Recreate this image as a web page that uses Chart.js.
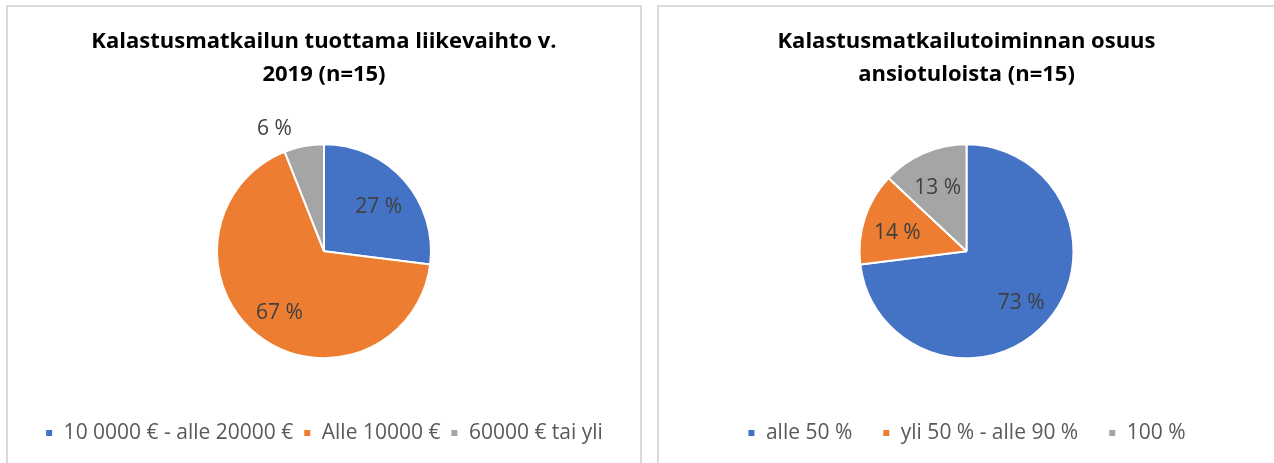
<!DOCTYPE html>
<html>
<head>
<meta charset="utf-8">
<script src="https://cdn.jsdelivr.net/npm/chart.js@4.4.1/dist/chart.umd.min.js"></script>
<style>
  html, body { margin: 0; padding: 0; background: #ffffff; overflow: hidden; }
  body { width: 1274px; height: 463px; position: relative; }
  .box { position: absolute; border: 2px solid #dadada; border-bottom: none; background: #fff; }
  #box1 { left: 6px; top: 5px; width: 632px; height: 460px; }
  #box2 { left: 657px; top: 5px; width: 640px; height: 460px; }
  canvas { position: absolute; left: 0; top: 0; }
</style>
</head>
<body>
<div class="box" id="box1"><canvas id="c1" width="632" height="456" style="width:632px;height:456px"></canvas></div>
<div class="box" id="box2"><canvas id="c2" width="615" height="456" style="width:615px;height:456px"></canvas></div>
<script>
// ---- data ----
const titleLeft = ["Kalastusmatkailun tuottama liikevaihto v.", "2019 (n=15)"];
const categoriesLeft = ["10 0000 € - alle 20000 €", "Alle 10000 €", "60000 € tai yli"];
const valuesLeft = [27, 67, 6];

const titleRight = ["Kalastusmatkailutoiminnan osuus", "ansiotuloista (n=15)"];
const categoriesRight = ["alle 50 %", "yli 50 % - alle 90 %", "100 %"];
const valuesRight = [73, 14, 13];

const colors = ["#4472C4", "#ED7D31", "#A5A5A5"];
const FONT = "'Open Sans', 'Noto Sans', sans-serif";

// ---- data label plugin ----
const pieLabels = {
  id: 'pieLabels',
  afterDatasetsDraw(chart) {
    const ctx = chart.ctx;
    const meta = chart.getDatasetMeta(0);
    const data = chart.data.datasets[0].data;
    const total = data.reduce((a, b) => a + b, 0);
    ctx.save();
    ctx.font = '21px ' + FONT;
    ctx.fillStyle = '#404040';
    meta.data.forEach((arc, i) => {
      const p = arc.getProps(['x', 'y', 'startAngle', 'endAngle', 'outerRadius'], true);
      const mid = (p.startAngle + p.endAngle) / 2;
      const txt = data[i] + ' %';
      const share = data[i] / total;
      const c = Math.cos(mid), s = Math.sin(mid);
      ctx.textAlign = 'center';
      ctx.textBaseline = 'middle';
      if (share >= 0.1) {
        const d = p.outerRadius * 0.68;
        ctx.fillText(txt, p.x + c * d, p.y + s * d + 4);
      } else {
        const d = p.outerRadius * 1.1;
        const w = ctx.measureText(txt).width;
        const h = 20;
        const ax = p.x + c * d, ay = p.y + s * d;
        const cx = ax + (c < 0 ? -w / 2 - 10 : w / 2 + 10);
        const cy = ay + (s < 0 ? -h / 2 : h / 2) + 3;
        ctx.fillText(txt, cx, cy);
      }
    });
    ctx.restore();
  }
};

function makePie(id, title, labels, values, legendPad, titlePadBottom) {
  return new Chart(document.getElementById(id), {
    type: 'pie',
    data: {
      labels: labels,
      datasets: [{
        data: values,
        backgroundColor: colors,
        borderColor: '#ffffff',
        borderWidth: 2,
        radius: 107
      }]
    },
    options: {
      responsive: false,
      animation: false,
      layout: { padding: { top: 0, bottom: 9.5, left: 0, right: 0 } },
      plugins: {
        title: {
          display: true,
          text: title,
          color: '#000000',
          font: { family: FONT, size: 22, weight: 'bold', lineHeight: 1.52 },
          padding: { top: 18, bottom: titlePadBottom }
        },
        legend: {
          position: 'bottom',
          labels: {
            boxWidth: 8,
            boxHeight: 8,
            padding: legendPad,
            color: '#595959',
            font: { family: FONT, size: 21 }
          }
        },
        tooltip: { enabled: false }
      }
    },
    plugins: [pieLabels]
  });
}

makePie('c1', titleLeft, categoriesLeft, valuesLeft, 10, -2);
makePie('c2', titleRight, categoriesRight, valuesRight, 30, 18);
</script>
</body>
</html>
